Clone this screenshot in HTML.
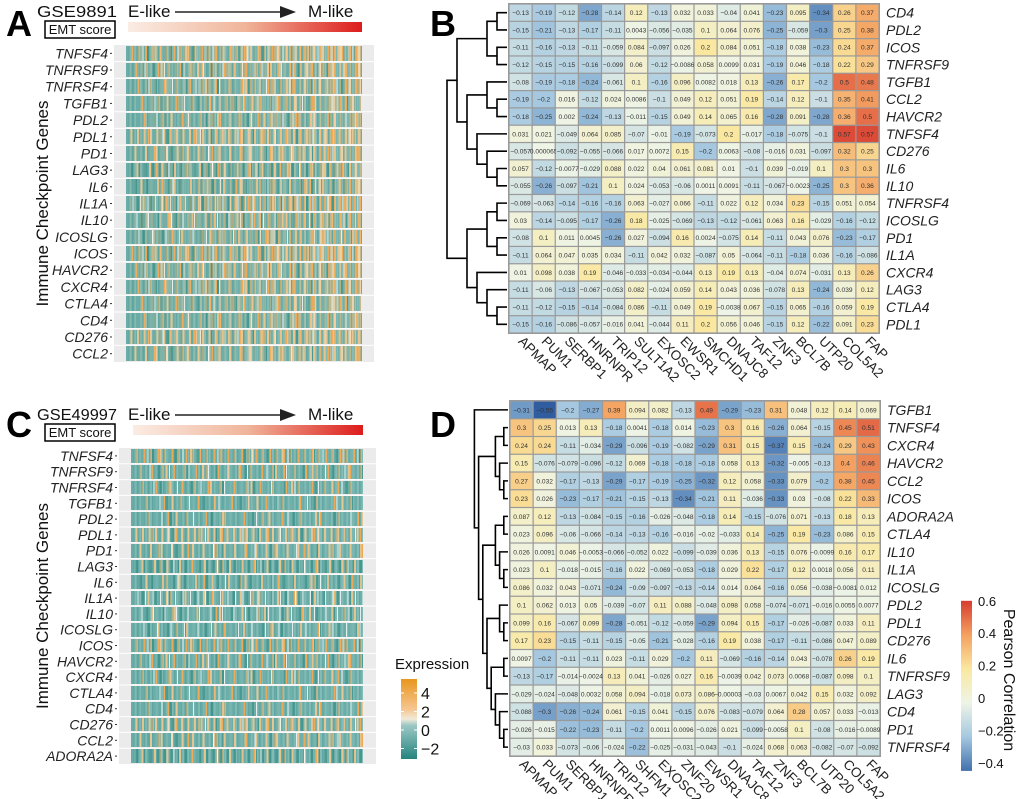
<!DOCTYPE html>
<html><head><meta charset="utf-8">
<style>
html,body{margin:0;padding:0;background:#fff;}
svg{display:block;font-family:"Liberation Sans",sans-serif;}
.gl{font-style:italic;font-size:14px;fill:#222;}
.cl{font-size:13.5px;fill:#222;}
.cv{font-size:6.6px;fill:#333;}
</style></head>
<body>
<svg id="fig" width="1020" height="799" viewBox="0 0 1020 799">
<defs>
<linearGradient id="emt" x1="0" x2="1" y1="0" y2="0"><stop offset="0" stop-color="#fbece4"/><stop offset="0.5" stop-color="#f0b59a"/><stop offset="1" stop-color="#dd1c1c"/></linearGradient>
<linearGradient id="expr" x1="0" x2="0" y1="0" y2="1"><stop offset="0" stop-color="#e8961e"/><stop offset="0.38" stop-color="#f6c690"/><stop offset="0.5" stop-color="#f2ead8"/><stop offset="0.58" stop-color="#9cc7c4"/><stop offset="1" stop-color="#24847f"/></linearGradient>
<linearGradient id="corr" x1="0" x2="0" y1="0" y2="1"><stop offset="0" stop-color="#d73c30"/><stop offset="0.2" stop-color="#f4a060"/><stop offset="0.4" stop-color="#fae8a0"/><stop offset="0.6" stop-color="#eef4e6"/><stop offset="0.8" stop-color="#a5c8e0"/><stop offset="1" stop-color="#4170ad"/></linearGradient>
</defs>
</svg>
<script>
// ---------- data ----------
const genesA = ["TNFSF4","TNFRSF9","TNFRSF4","TGFB1","PDL2","PDL1","PD1","LAG3","IL6","IL1A","IL10","ICOSLG","ICOS","HAVCR2","CXCR4","CTLA4","CD4","CD276","CCL2"];
const genesC = ["TNFSF4","TNFRSF9","TNFRSF4","TGFB1","PDL2","PDL1","PD1","LAG3","IL6","IL1A","IL10","ICOSLG","ICOS","HAVCR2","CXCR4","CTLA4","CD4","CD276","CCL2","ADORA2A"];
const colsB = ["APMAP","PUM1","SERBP1","HNRNPR","TRIP12","SULT1A2","EXOSC2","EWSR1","SMCHD1","DNAJC8","TAF12","ZNF3","BCL7B","UTP20","COL5A2","FAP"];
const rowsB = ["CD4","PDL2","ICOS","TNFRSF9","TGFB1","CCL2","HAVCR2","TNFSF4","CD276","IL6","IL10","TNFRSF4","ICOSLG","PD1","IL1A","CXCR4","LAG3","CTLA4","PDL1"];
const valsB = [
[-0.13,-0.19,-0.12,-0.28,-0.14,0.12,-0.13,0.032,0.033,-0.04,0.041,-0.23,0.095,-0.34,0.26,0.37],
[-0.15,-0.21,-0.13,-0.17,-0.11,0.0043,-0.056,-0.035,0.1,0.064,0.076,-0.25,-0.059,-0.3,0.25,0.38],
[-0.11,-0.16,-0.13,-0.11,-0.059,0.084,-0.097,0.026,0.2,0.084,0.051,-0.18,0.038,-0.23,0.24,0.37],
[-0.12,-0.15,-0.15,-0.16,-0.099,0.06,-0.12,-0.0086,0.058,0.0099,0.031,-0.19,0.046,-0.18,0.22,0.29],
[-0.08,-0.19,-0.18,-0.24,-0.061,0.1,-0.16,0.096,0.0082,0.018,0.13,-0.26,0.17,-0.2,0.5,0.48],
[-0.19,-0.2,0.016,-0.12,0.024,0.0086,-0.1,0.049,0.12,0.051,0.19,-0.14,0.12,-0.1,0.35,0.41],
[-0.18,-0.25,0.002,-0.24,-0.13,-0.011,-0.15,0.049,0.14,0.065,0.16,-0.28,0.091,-0.28,0.36,0.5],
[0.031,0.021,-0.049,0.064,0.085,-0.07,-0.01,-0.19,-0.073,0.2,-0.017,-0.18,-0.075,-0.1,0.57,0.57],
[-0.057,0.000065,-0.092,-0.055,-0.066,0.017,0.0072,0.15,-0.2,0.0063,-0.08,-0.016,0.031,-0.097,0.32,0.25],
[0.057,-0.12,-0.0077,-0.029,0.088,0.022,0.04,0.061,0.081,0.01,-0.1,0.039,-0.019,0.1,0.3,0.3],
[-0.055,-0.26,-0.097,-0.21,0.1,0.024,-0.053,-0.06,0.0011,0.0091,-0.11,-0.067,-0.0023,-0.25,0.3,0.36],
[-0.069,-0.063,-0.14,-0.16,-0.16,0.063,-0.027,0.066,-0.11,0.022,0.12,0.034,0.23,-0.15,0.051,0.054],
[0.03,-0.14,-0.095,-0.17,-0.26,0.18,-0.025,-0.069,-0.13,-0.12,-0.061,0.063,0.16,-0.029,-0.16,-0.12],
[-0.08,0.1,0.011,0.0045,-0.26,0.027,-0.094,0.16,0.0024,-0.075,0.14,-0.11,0.043,0.076,-0.23,-0.17],
[-0.11,0.064,0.047,0.035,0.034,-0.11,0.042,0.032,-0.087,0.05,-0.064,-0.11,-0.18,0.036,-0.16,-0.086],
[0.01,0.098,0.038,0.19,-0.046,-0.033,-0.034,-0.044,0.13,0.19,0.13,-0.04,0.074,-0.031,0.13,0.26],
[-0.11,-0.06,-0.13,-0.067,-0.053,0.082,-0.024,0.059,0.14,0.043,0.036,-0.078,0.13,-0.24,0.039,0.12],
[-0.11,-0.12,-0.15,-0.14,-0.084,0.086,-0.11,0.049,0.19,-0.0038,0.067,-0.15,0.065,-0.16,0.059,0.19],
[-0.15,-0.16,-0.086,-0.057,-0.016,0.041,-0.044,0.11,0.2,0.056,0.046,-0.15,0.12,-0.22,0.091,0.23]];
const colsD = ["APMAP","PUM1","SERBP1","HNRNPR","TRIP12","SHFM1","EXOSC2","ZNF20","EWSR1","DNAJC8","TAF12","ZNF3","BCL7B","UTP20","COL5A2","FAP"];
const rowsD = ["TGFB1","TNFSF4","CXCR4","HAVCR2","CCL2","ICOS","ADORA2A","CTLA4","IL10","IL1A","ICOSLG","PDL2","PDL1","CD276","IL6","TNFRSF9","LAG3","CD4","PD1","TNFRSF4"];
const valsD = [
[-0.31,-0.55,-0.2,-0.27,0.39,0.094,0.082,-0.13,0.49,-0.29,-0.23,0.31,0.048,0.12,0.14,0.069],
[0.3,0.25,0.013,0.13,-0.18,0.0041,-0.18,0.014,-0.23,0.3,0.16,-0.26,0.064,-0.15,0.45,0.51],
[0.24,0.24,-0.11,-0.034,-0.29,-0.096,-0.19,-0.082,-0.29,0.31,0.15,-0.37,0.15,-0.24,0.29,0.43],
[0.15,-0.076,-0.079,-0.096,-0.12,0.069,-0.18,-0.18,-0.18,0.058,0.13,-0.32,-0.005,-0.13,0.4,0.46],
[0.27,0.032,-0.17,-0.13,-0.29,-0.17,-0.19,-0.25,-0.32,0.12,0.058,-0.33,0.079,-0.2,0.38,0.45],
[0.23,0.026,-0.23,-0.17,-0.21,-0.15,-0.13,-0.34,-0.21,0.11,-0.036,-0.33,0.03,-0.08,0.22,0.33],
[0.087,0.12,-0.13,-0.084,-0.15,-0.16,-0.026,-0.048,-0.18,0.14,-0.15,-0.076,0.071,-0.13,0.18,0.13],
[0.023,0.096,-0.06,-0.066,-0.14,-0.13,-0.16,-0.016,-0.02,-0.033,0.14,-0.25,0.19,-0.23,0.086,0.15],
[0.026,0.0091,0.046,-0.0053,-0.066,-0.052,0.022,-0.099,-0.039,0.036,0.13,-0.15,0.076,-0.0099,0.16,0.17],
[0.023,0.1,-0.018,-0.015,-0.16,0.022,-0.069,-0.053,-0.18,0.029,0.22,-0.17,0.12,0.0018,0.056,0.11],
[0.086,0.032,0.043,-0.071,-0.24,-0.09,-0.097,-0.13,-0.14,0.014,0.064,-0.16,0.056,-0.038,-0.0081,0.012],
[0.1,0.062,0.013,0.05,-0.039,-0.07,0.11,0.088,-0.048,0.098,0.058,-0.074,-0.071,-0.016,0.0055,0.0077],
[0.099,0.16,-0.067,0.099,-0.28,-0.051,-0.12,-0.059,-0.29,0.094,0.15,-0.17,-0.026,-0.087,0.033,0.11],
[0.17,0.23,-0.15,-0.11,-0.15,-0.05,-0.21,-0.028,-0.16,0.19,0.038,-0.17,-0.11,-0.086,0.047,0.089],
[0.0097,-0.2,-0.11,-0.11,0.023,-0.11,0.029,-0.2,0.11,-0.069,-0.16,-0.14,0.043,-0.078,0.26,0.19],
[-0.13,-0.17,-0.014,-0.0024,0.13,0.041,-0.026,0.027,0.16,-0.0039,0.042,0.073,0.0068,-0.087,0.098,0.1],
[-0.029,-0.024,-0.048,0.0032,0.058,0.094,-0.018,0.073,0.086,-0.000034,-0.03,0.0067,0.042,0.15,0.032,0.092],
[-0.088,-0.3,-0.26,-0.24,0.061,-0.15,0.041,-0.15,0.076,-0.083,-0.079,0.064,0.28,0.057,0.033,-0.013],
[-0.026,-0.015,-0.22,-0.23,-0.11,-0.2,0.0011,0.0096,-0.026,0.021,-0.099,-0.0058,0.1,-0.08,-0.016,-0.0089],
[-0.03,0.033,-0.073,-0.06,-0.024,-0.22,-0.025,-0.031,-0.043,-0.1,-0.024,0.068,0.063,-0.082,-0.07,-0.092]];
const corrTicks = [0.6,0.4,0.2,0,-0.2,-0.4];
const exprTicks = [4,2,0,-2];
const treeB = [[[[0,1],[2,3]],[[4,[5,6]],[7,[8,[9,10]]]]],[[[11,12],[13,14]],[15,[16,[17,18]]]]];
const treeD = [0,[[[1,2],[3,[4,5]]],[[[6,7],[8,[9,10]]],[[11,[12,13]],[[14,15],[16,[17,[18,19]]]]]]]];

// ---------- helpers ----------
const NS="http://www.w3.org/2000/svg";
const svg=document.getElementById('fig');
function mk(tag,attrs,parent,text){const e=document.createElementNS(NS,tag);for(const k in attrs)e.setAttribute(k,attrs[k]);if(text!==undefined)e.textContent=text;(parent||svg).appendChild(e);return e;}
const stops=[[-0.55,[48,92,160]],[-0.4,[70,118,178]],[-0.2,[165,200,224]],[0,[238,244,230]],[0.2,[250,232,160]],[0.4,[244,160,96]],[0.6,[215,60,48]]];
function ccol(v){for(let i=0;i<stops.length-1;i++){const a=stops[i],b=stops[i+1];if(v<=b[0]||i==stops.length-2){let t=(v-a[0])/(b[0]-a[0]);t=Math.max(0,Math.min(1,t));const c=a[1].map((x,j)=>Math.round(x+(b[1][j]-x)*t));return `rgb(${c})`;}}}
function fmt(v){let s=String(+v.toPrecision(2));return s.replace('-','\u2212');}

// ---------- panel letters ----------
[["A",6,36],["B",430,36],["C",6,437],["D",430,437]].forEach(([t,x,y])=>{
  const e=mk('text',{x:x,y:y,'font-size':36,'font-weight':'bold',fill:'#000'},svg,t);
  
  
});

// ---------- expression heatmaps (texture) ----------
function stripe(period,w,color){return `repeating-linear-gradient(90deg,transparent 0 ${period-w}px,${color} ${period-w}px ${period}px)`;}
function exprPanel(id,genes,top,bottom,hx0,hx1,px0,px1,title,warm){
  const g=mk('g',{});
  
  
  const ty=top-28;
  const t1=mk('text',{x:37,y:ty,'font-size':16,fill:'#111',textLength:80,lengthAdjust:'spacingAndGlyphs'},g,title);
  
  const bx=mk('rect',{x:45,y:ty+4,width:70,height:17,fill:'#fff',stroke:'#000','stroke-width':1.5},g);
  
  mk('text',{x:80,y:ty+17,'font-size':13,'text-anchor':'middle',fill:'#111'},g,'EMT score');
  mk('text',{x:128,y:ty,'font-size':17,fill:'#111'},g,'E-like');
  mk('text',{x:308,y:ty,'font-size':17,fill:'#111'},g,'M-like');
  mk('line',{x1:175,y1:ty-5,x2:285,y2:ty-5,stroke:'#222','stroke-width':1.5},g);
  mk('path',{d:`M280 ${ty-11} L296 ${ty-5} L280 ${ty+1} Z`,fill:'#222'},g);
  const gb=mk('rect',{x:hx0+2,y:ty+5,width:hx1-hx0-2,height:10,fill:'url(#emt)'},g);
  
  mk('rect',{x:px0,y:top,width:px1-px0,height:bottom-top,fill:'#ebebeb'},g);
  const n=genes.length,rh=(bottom-top)/n;
  const P=[7,11,13,17,19,23,29,31,37,41,43,47];
  genes.forEach((gn,i)=>{
    const y=top+i*rh;
    const a=P[i%12],b=P[(i+3)%12],c=P[(i+7)%12],d=P[(i+5)%12];
    const layers=[
      stripe(a,1.5,'rgba(243,170,85,0.95)'),
      stripe(b+0.5,1.2,'rgba(255,255,255,0.8)'),
      stripe(c-0.5,2,'rgba(248,200,140,0.85)'),
      stripe(d,2.5,'rgba(45,135,128,0.6)'),
      stripe(5.3,2,'rgba(150,200,195,0.45)'),
      stripe(3.7,1.3,'rgba(70,150,145,0.35)'),
      'linear-gradient(90deg,#6aaca7,#74b2ad)'
    ];
    const fo=mk('foreignObject',{x:hx0,y:y+1,width:hx1-hx0,height:rh-2},g);
    const dv=document.createElement('div');
    dv.style.cssText=`position:relative;width:100%;height:100%;background:${layers.join(',')};`;
    if(warm){
      const ov=document.createElement('div');
      ov.style.cssText=`position:absolute;inset:0;background:${stripe(b-2,2,'rgba(244,175,95,0.95)')},${stripe(a+2,2.5,'rgba(250,215,170,0.9)')},${stripe(5,1.5,'rgba(246,190,120,0.6)')};-webkit-mask-image:linear-gradient(90deg,rgba(0,0,0,0.15),rgba(0,0,0,1));mask-image:linear-gradient(90deg,rgba(0,0,0,0.15),rgba(0,0,0,1));`;
      dv.appendChild(ov);
    }
    fo.appendChild(dv);
    if(i>0){mk('line',{x1:px0,x2:px1,y1:y,y2:y,stroke:'#fff','stroke-width':1},g);}
    const lb=mk('text',{x:px0-6,y:y+rh/2+5,'text-anchor':'end',class:'gl'},g,gn);
    
    
    mk('line',{x1:px0-4,x2:px0-2,y1:y+rh/2,y2:y+rh/2,stroke:'#333'},g);
  });
  const yt=mk('text',{x:0,y:0,'font-size':17,fill:'#111','text-anchor':'middle',transform:`translate(48,${(top+bottom)/2}) rotate(-90)`},g,'Immune Checkpoint Genes');
  
}
exprPanel('panel-a',genesA,45,362,126,362,114,374,'GSE9891',true);
exprPanel('panel-c',genesC,448,764,131,363,119,376,'GSE49997',false);

// expression legend
(function(){
  const g=mk('g',{});
  
  
  mk('text',{x:395,y:669,'font-size':15,fill:'#111'},g,'Expression');
  mk('rect',{x:401,y:679,width:16,height:80,fill:'url(#expr)'},g);
  const ey=v=>730-(v)*9.25;
  exprTicks.forEach(v=>{
    mk('line',{x1:401,x2:404,y1:ey(v),y2:ey(v),stroke:'#fff'},g);
    mk('line',{x1:414,x2:417,y1:ey(v),y2:ey(v),stroke:'#fff'},g);
    mk('text',{x:421,y:ey(v)+6,'font-size':16,fill:'#111'},g,String(v).replace('-','\u2212'));
  });
})();

// ---------- correlation heatmaps ----------
function corrPanel(id,rows,cols,vals,tree,x0,x1,y0,y1,step){
  const g=mk('g',{});
  
  
  const cw=(x1-x0)/cols.length, rh=(y1-y0)/rows.length;
  const xs=j=>x0+j*cw, ys=i=>y0+i*rh;
  mk('rect',{x:x0-1,y:y0-1,width:x1-x0+2,height:y1-y0+2,fill:'#999'},g);
  vals.forEach((row,i)=>row.forEach((v,j)=>{
    const r=mk('rect',{x:xs(j)+0.6,y:ys(i)+0.6,width:cw-1.2,height:rh-1.2,fill:ccol(v)},g);
    
    
    mk('text',{x:xs(j)+cw/2,y:ys(i)+rh/2+2.4,'text-anchor':'middle',class:'cv'},g,fmt(v));
  }));
  rows.forEach((rn,i)=>{
    const t=mk('text',{x:x1+7,y:ys(i)+rh/2+5,class:'gl','font-size':14},g,rn);
    
    
  });
  cols.forEach((cn,j)=>{
    const cx=xs(j)+cw/2-3, cy=y1+9;
    const t=mk('text',{x:0,y:0,class:'cl',transform:`translate(${cx},${cy}) rotate(45)`},g,cn);
    
    
  });
  const right=x0-2;
  function draw(node){
    if(typeof node==='number') return {y:ys(node)+rh/2,h:0,x:right};
    const a=draw(node[0]),b=draw(node[1]);
    const h=Math.max(a.h,b.h)+1, x=right-h*step;
    mk('path',{d:`M${a.x} ${a.y} H${x} V${b.y} H${b.x}`,fill:'none',stroke:'#000','stroke-width':1.6},g);
    return {y:(a.y+b.y)/2,h:h,x:x};
  }
  draw(tree);
}
corrPanel('panel-b',rowsB,colsB,valsB,treeB,509,879,4,333,10);
corrPanel('panel-d',rowsD,colsD,valsD,treeD,510,880,401,756,4.2);

// correlation colorbar
(function(){
  const g=mk('g',{});
  
  
  const cy=v=>698-v*162;
  mk('rect',{x:961,y:cy(0.6),width:11,height:cy(-0.45)-cy(0.6),fill:'url(#corr)'},g);
  corrTicks.forEach(v=>{
    mk('text',{x:978,y:cy(v)+5,'font-size':13,fill:'#111'},g,String(v).replace('-','\u2212'));
  });
  const t=mk('text',{x:0,y:0,'font-size':16,fill:'#111','text-anchor':'middle',transform:'translate(1004,680) rotate(90)'},g,'Pearson Correlation');
  
  
})();
</script>
</body></html>
